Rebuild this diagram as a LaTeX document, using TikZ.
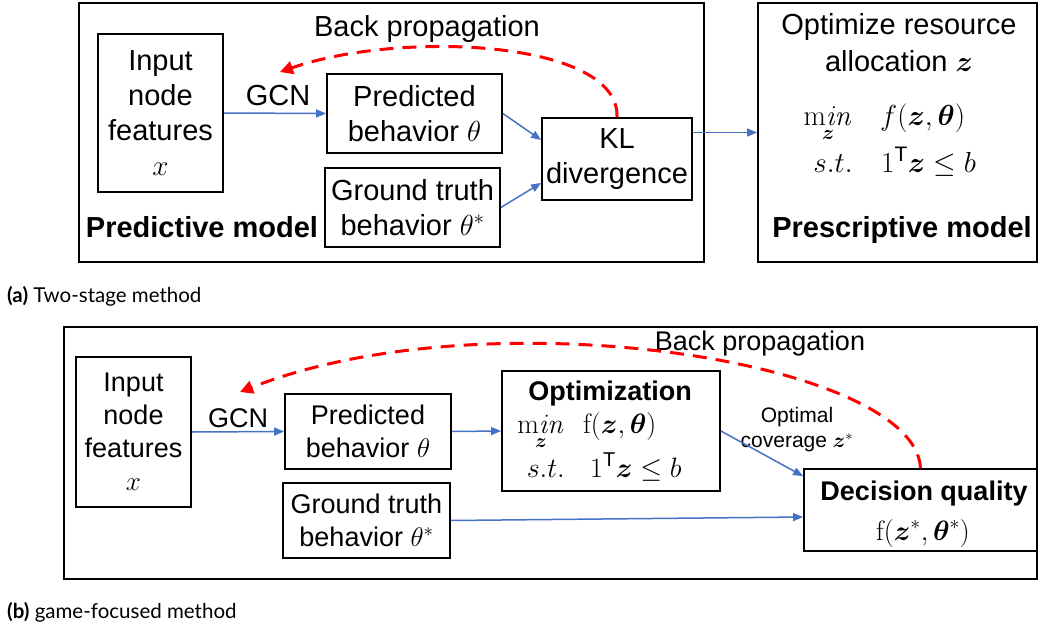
\RequirePackage{fix-cm}
\documentclass[tikz,border=0pt]{standalone}
\usepackage[no-math]{fontspec}
\setmainfont{Liberation Sans}
\newfontfamily\latofont{Lato}
\usepackage{amsmath,bm}
\usetikzlibrary{arrows.meta}
\definecolor{cblue}{HTML}{4472C4}
\begin{document}
\begin{tikzpicture}[x=1pt,y=-1pt,
  box/.style={draw,line width=1.8pt,inner sep=0pt,align=center},
  lbl/.style={inner sep=0pt,align=center},
  big/.style={font=\fontsize{29}{35}\selectfont},
  mid/.style={font=\fontsize{27}{33}\selectfont},
  bigmath/.style={font=\fontsize{29}{35}\selectfont},
  midmath/.style={font=\fontsize{28}{34}\selectfont},
  small/.style={font=\fontsize{21}{25}\selectfont},
  capt/.style={font=\fontsize{20.5}{24}\latofont,inner sep=0pt,anchor=base west},
  flow/.style={draw=cblue,line width=1.5pt,-{Triangle[length=10pt,width=8pt]}},
  back/.style={draw=red,line width=3pt,dash pattern=on 14pt off 9pt,-{Triangle[length=13pt,width=13pt]}}
]
\useasboundingbox (0,0) rectangle (1039,626);

% ---------- (a) ----------
\node[box,minimum width=625pt,minimum height=259pt] (outerA) at (391.5,132.5) {};
\node[box,minimum width=279pt,minimum height=259pt] (presc) at (897.5,132.5) {};
\node[box,big,minimum width=125pt,minimum height=158pt] (inA) at (160.5,113) {Input\\node\\features\\$x$};
\node[box,big,minimum width=175pt,minimum height=79pt] (predA) at (414.5,113.5) {Predicted\\behavior $\theta$};
\node[box,big,minimum width=175pt,minimum height=79pt] (gtA) at (412.5,207.5) {Ground truth\\behavior $\theta^*$};
\node[box,big,minimum width=150pt,minimum height=82pt] (klA) at (617,159) {KL\\divergence};

\node[lbl,big,anchor=base] (gcnA) at (278,106) {GCN};
\node[lbl,big,anchor=base] (bpA) at (427,37) {Back propagation};
\node[lbl,big,anchor=base,font=\fontsize{29}{35}\selectfont\bfseries] (predmod) at (202,237) {Predictive model};

\node[lbl,big,anchor=base] (optres) at (899,35) {Optimize resource};
\node[lbl,big,anchor=base] (alloc) at (899,72) {allocation $\bm z$};
\node[lbl,bigmath,anchor=base east] (pminL) at (853,125) {$\mathop{\mathrm{m}\mathit{in}}\limits_{\bm z}$};
\node[lbl,bigmath,anchor=base west] (pminR) at (880,125) {$f(\bm z,\bm\theta)$};
\node[lbl,bigmath,anchor=base east] (pstL) at (853,172) {$s.t.$};
\node[lbl,bigmath,anchor=base west] (pstR) at (881,172) {$1^{\text{\fontsize{21}{21}\selectfont T}}\bm z\le b$};
\node[lbl,big,anchor=base,font=\fontsize{29}{35}\selectfont\bfseries] (prescmod) at (902,237) {Prescriptive model};

\draw[flow] (inA.east) -- (predA.west);
\draw[flow] (predA.east) -- ([yshift=19pt]klA.west);
\draw[flow] (gtA.east) -- ([yshift=-24pt]klA.west);
\draw[flow] (klA.east |- presc.west) -- (presc.west);
\coordinate (bpAend) at (280,72);
\draw[back] (klA.north) .. controls (620,40) and (400,30) .. (bpAend);

\node[capt] (captA) at (7,302) {\textbf{(a)} Two-stage method};

% ---------- (b) ----------
\node[box,minimum width=973pt,minimum height=252pt] (outerB) at (550.5,453) {};
\node[box,mid,minimum width=115pt,minimum height=150pt] (inB) at (133.5,432) {Input\\node\\features\\$x$};
\node[box,mid,minimum width=166pt,minimum height=75pt] (predB) at (368,431.5) {Predicted\\behavior $\theta$};
\node[box,mid,minimum width=167pt,minimum height=75pt] (gtB) at (366.5,520.5) {Ground truth\\behavior $\theta^*$};
\node[box,minimum width=218pt,minimum height=120pt] (optB) at (611,431) {};
\node[box,minimum width=233pt,minimum height=82pt] (decB) at (920.5,510) {};

\node[lbl,mid,anchor=base] (gcnB) at (238,427) {GCN};
\node[lbl,mid,anchor=base] (bpB) at (760,350) {Back propagation};
\node[lbl,mid,anchor=base,font=\fontsize{27}{33}\selectfont\bfseries] (optT) at (610,400) {Optimization};
\node[lbl,midmath,anchor=base east] (ominL) at (565,433) {$\mathop{\mathrm{m}\mathit{in}}\limits_{\bm z}$};
\node[lbl,midmath,anchor=base west] (ominR) at (583,433) {$\mathrm{f}(\bm z,\bm\theta)$};
\node[lbl,midmath,anchor=base east] (ostL) at (565,477) {$s.t.$};
\node[lbl,midmath,anchor=base west] (ostR) at (590,477) {$1^{\text{\fontsize{20}{20}\selectfont T}}\bm z\le b$};
\node[lbl,mid,anchor=base,font=\fontsize{27}{33}\selectfont\bfseries] (decT) at (924,500) {Decision quality};
\node[lbl,midmath,anchor=base] (decF) at (923,540) {$\mathrm{f}(\bm z^*,\bm\theta^*)$};
\node[lbl,small] (optcov) at (797,430) {Optimal\\coverage $\bm z^*$};

\draw[flow] (inB.east) -- (predB.west);
\draw[flow] (predB.east) -- (optB.west);
\draw[flow] (optB.east) -- ([yshift=-8pt]decB.north west);
\draw[flow] (gtB.east) -- ([yshift=-7pt]decB.west);
\coordinate (bpBend) at (240,392);
\draw[back] (decB.north) .. controls (915,360) and (485,295) .. (bpBend);

\node[capt] (captB) at (7,618) {\textbf{(b)} game-focused method};
\end{tikzpicture}
\end{document}
